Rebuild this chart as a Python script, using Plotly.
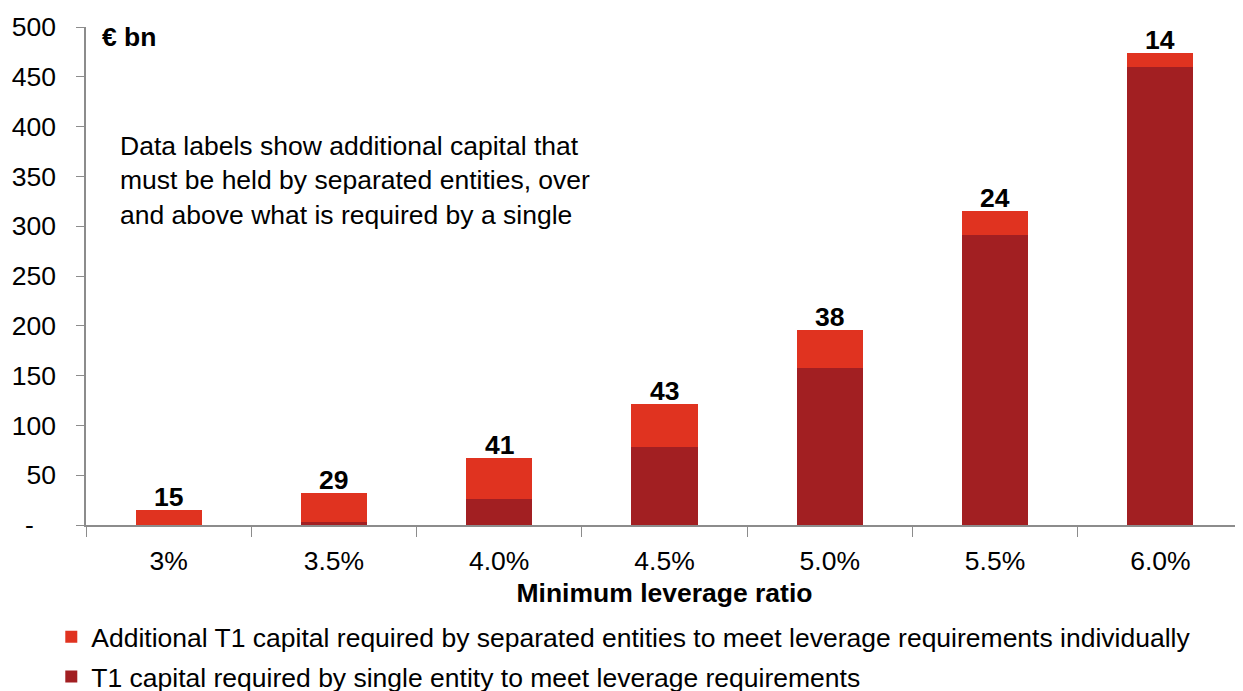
import plotly.graph_objects as go

categories = ['3%', '3.5%', '4.0%', '4.5%', '5.0%', '5.5%', '6.0%']
single_entity = [0, 3, 26, 78, 158, 291, 460]
additional = [15, 29, 41, 43, 38, 24, 14]
y_ticks = [0, 50, 100, 150, 200, 250, 300, 350, 400, 450, 500]
y_tick_labels = ['-\u00a0\u00a0\u00a0', '50', '100', '150', '200', '250', '300', '350', '400', '450', '500']

FONT = 'Liberation Sans, Arial, sans-serif'
DARK = '#A21F22'
BRIGHT = '#E03320'
FS = 26.5

fig = go.Figure()
fig.add_trace(go.Bar(x=categories, y=single_entity, name='T1 capital required by single entity to meet leverage requirements',
                     marker=dict(color=DARK, line=dict(width=0)), width=0.4, legend='legend2'))
fig.add_trace(go.Bar(x=categories, y=additional,
                     name='Additional T1 capital required by separated entities to meet leverage requirements individually',
                     marker=dict(color=BRIGHT, line=dict(width=0)), width=0.4, legend='legend'))

# labels show the additional amount, placed on top of each stack
totals = [a + b for a, b in zip(single_entity, additional)]
for c, t, a in zip(categories, totals, additional):
    fig.add_annotation(x=c, y=t, text=f'<b>{a}</b>', showarrow=False, yanchor='bottom', yshift=-4,
                       font=dict(size=FS, color='black', family=FONT))

fig.add_annotation(xref='paper', yref='paper', x=0.012, y=0.98, text='<b>€ bn</b>', showarrow=False,
                   xanchor='left', yanchor='middle', font=dict(size=FS, color='black', family=FONT))
fig.add_annotation(xref='paper', yref='paper', x=0.0277, y=0.795,
                   text='Data labels show additional capital that<br>must be held by separated entities, over<br>and above what is required by a single',
                   showarrow=False, xanchor='left', yanchor='top', align='left',
                   font=dict(size=FS, color='black', family=FONT))

leg = dict(orientation='v', x=-0.03, xanchor='left', yanchor='middle',
           font=dict(size=FS, family=FONT), itemwidth=30, bgcolor='rgba(0,0,0,0)')

fig.update_layout(
    width=1243, height=691,
    barmode='stack',
    plot_bgcolor='white', paper_bgcolor='white',
    margin=dict(l=78, r=8, t=19, b=174, autoexpand=False),
    font=dict(family=FONT, size=FS, color='black'),
    showlegend=True,
    legend=dict(leg, y=-0.225),
    legend2=dict(leg, y=-0.305),
    xaxis=dict(showline=True, linecolor='#8c8c8c', linewidth=1.5, ticks='outside', tickson='boundaries',
               ticklen=10, tickcolor='#8c8c8c', tickfont=dict(size=FS), ticklabelstandoff=11, automargin=False,
               title=dict(text='<b>Minimum leverage ratio</b>', font=dict(size=FS), standoff=9)),
    yaxis=dict(range=[0, 500], tickvals=y_ticks, ticktext=y_tick_labels, showline=True, linecolor='#8c8c8c',
               linewidth=1.5, ticks='outside', ticklen=8, tickcolor='#8c8c8c', showgrid=False, zeroline=False,
               tickfont=dict(size=FS), ticklabelstandoff=15, automargin=False),
)

fig.write_html('out.html')
